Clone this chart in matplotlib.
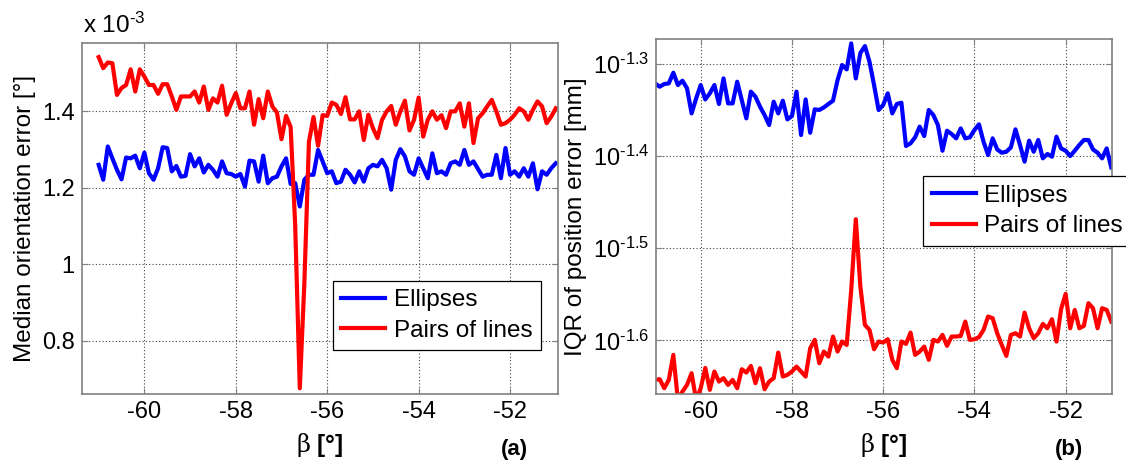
import numpy as np
import matplotlib
matplotlib.use("Agg")
import matplotlib.pyplot as plt
from matplotlib.ticker import NullLocator

plt.rcParams['font.family'] = ['Liberation Sans', 'DejaVu Sans']
plt.rcParams['mathtext.fontset'] = 'custom'
plt.rcParams['mathtext.rm'] = 'Liberation Sans'
plt.rcParams['mathtext.it'] = 'Liberation Sans:italic'
plt.rcParams['mathtext.bf'] = 'Liberation Sans:bold'
plt.rcParams['axes.unicode_minus'] = False

# beta from -61 to -51 deg, step 0.1
beta = np.round(np.arange(-61.0, -50.95, 0.1), 1)

# (a) median orientation error, x 10^-3 deg
med_ellipses = [
    1.260, 1.221, 1.308, 1.277, 1.247, 1.222, 1.279, 1.277, 1.284, 1.251,
    1.292, 1.238, 1.221, 1.251, 1.306, 1.304, 1.243, 1.257, 1.229, 1.231,
    1.288, 1.256, 1.277, 1.240, 1.260, 1.247, 1.229, 1.269, 1.238, 1.236,
    1.229, 1.236, 1.203, 1.271, 1.269, 1.216, 1.284, 1.212, 1.225, 1.229,
    1.256, 1.277, 1.210, 1.212, 1.151, 1.221, 1.234, 1.234, 1.299, 1.269,
    1.238,
    1.243, 1.212, 1.216, 1.247, 1.234, 1.214, 1.243, 1.216, 1.251, 1.260,
    1.256, 1.273, 1.251, 1.195, 1.273, 1.301, 1.282, 1.243, 1.234, 1.277,
    1.251, 1.225, 1.290, 1.238, 1.243, 1.234, 1.264, 1.269, 1.260, 1.299,
    1.260, 1.269, 1.249, 1.229, 1.234, 1.234, 1.286, 1.225, 1.304, 1.234,
    1.243, 1.229, 1.251, 1.229, 1.264, 1.196, 1.243, 1.234, 1.251, 1.264,
]
med_lines = [
    1.542, 1.513, 1.528, 1.526, 1.443, 1.461, 1.469, 1.510, 1.452, 1.510,
    1.491, 1.469, 1.469, 1.446, 1.471, 1.471, 1.439, 1.404, 1.439, 1.439,
    1.439, 1.452, 1.423, 1.465, 1.404, 1.434, 1.423, 1.467, 1.391, 1.421,
    1.448, 1.408, 1.408, 1.452, 1.365, 1.432, 1.382, 1.452, 1.413, 1.397,
    1.327, 1.388, 1.359, 1.100, 0.675, 0.950, 1.320, 1.385, 1.310, 1.390,
    1.388, 1.423, 1.417, 1.393, 1.437, 1.379, 1.379, 1.400, 1.325, 1.391,
    1.356, 1.330, 1.378, 1.400, 1.414, 1.365, 1.400, 1.428, 1.350, 1.378,
    1.436, 1.334, 1.378, 1.400, 1.378, 1.390, 1.356, 1.400, 1.400, 1.421,
    1.360, 1.421, 1.317, 1.382, 1.395, 1.413, 1.430, 1.400, 1.365, 1.369,
    1.378, 1.391, 1.408, 1.400, 1.378, 1.404, 1.426, 1.413, 1.369, 1.386,
    1.408,
]

# (b) IQR of position error, as log10 of the value in mm
iqr_ellipses_exp = [
    -1.3210, -1.3246, -1.3217, -1.3210, -1.3094, -1.3228, -1.3181, -1.3264, -1.3536, -1.3373,
    -1.3228, -1.3384, -1.3318, -1.3228, -1.3434, -1.3156, -1.3427, -1.3427, -1.3192, -1.3391,
    -1.3590, -1.3300, -1.3355, -1.3463, -1.3554, -1.3662, -1.3409, -1.3536, -1.3398, -1.3601,
    -1.3565, -1.3300, -1.3771, -1.3384, -1.3746, -1.3492, -1.3499, -1.3471, -1.3434, -1.3398,
    -1.3174, -1.3011, -1.3058, -1.2776, -1.3156, -1.2880,
    -1.2805, -1.2975, -1.3228, -1.3499, -1.3445, -1.3318, -1.3536, -1.3434, -1.3420, -1.3890,
    -1.3861, -1.3796, -1.3680, -1.3782, -1.3499, -1.3554, -1.3662, -1.3941, -1.3724, -1.3760,
    -1.3807, -1.3699, -1.3807, -1.3796, -1.3717, -1.3655, -1.3843, -1.3988, -1.3807, -1.3927,
    -1.3963, -1.3952, -1.3905, -1.3709, -1.3879, -1.4060, -1.3832, -1.3952, -1.3825, -1.4024,
    -1.3977, -1.4006, -1.3789, -1.3916, -1.3941, -1.3999, -1.3941, -1.3879, -1.3825, -1.3825,
    -1.3927, -1.3963, -1.4024, -1.3916, -1.4122,
]
iqr_lines_exp = [
    -1.6430, -1.6422, -1.6520, -1.6430, -1.6158, -1.6650, -1.6556, -1.6484, -1.6357, -1.6650,
    -1.6520, -1.6300, -1.6538, -1.6339, -1.6448, -1.6411, -1.6484, -1.6430, -1.6520, -1.6314,
    -1.6350, -1.6278, -1.6466, -1.6303, -1.6531, -1.6448, -1.6411, -1.6133, -1.6393, -1.6375,
    -1.6339, -1.6285, -1.6339, -1.6393, -1.6086, -1.5995, -1.6249, -1.6122, -1.6176, -1.5959,
    -1.6122, -1.6013, -1.6050, -1.5452, -1.4685,
    -1.5416, -1.5832, -1.5887, -1.6097, -1.6013, -1.6024, -1.5988, -1.6212, -1.6303, -1.6013,
    -1.6039, -1.5916, -1.6158, -1.6122, -1.6068, -1.6212, -1.5995, -1.6013, -1.5941, -1.6060,
    -1.5959, -1.5959, -1.5952, -1.5796, -1.5995, -1.5988, -1.5966, -1.5887, -1.5742, -1.5760,
    -1.5923, -1.6050, -1.6169, -1.5941, -1.5923, -1.5959, -1.5699, -1.5869, -1.5977, -1.5923,
    -1.5822, -1.5869, -1.5771, -1.6013, -1.5662, -1.5496, -1.5869, -1.5670, -1.5869, -1.5843,
    -1.5597, -1.5651, -1.5869, -1.5651, -1.5670, -1.5796,
]

xticks = [-60, -58, -56, -54, -52]
left_yticks = [0.8, 1.0, 1.2, 1.4]
left_yticklabels = ['0.8', '1', '1.2', '1.4']
right_ytick_exp = ['-1.6', '-1.5', '-1.4', '-1.3']
labels = ['Ellipses', 'Pairs of lines']

TICK_FS = 17
LABEL_FS = 17.5


def style_axes(ax):
    ax.grid(True, linestyle=(0, (1, 2)), color='#444444', linewidth=0.8)
    ax.set_axisbelow(True)
    ax.tick_params(direction='in', length=4, top=True, right=True,
                   labelsize=TICK_FS, color='#808080', pad=5)
    for s in ax.spines.values():
        s.set_color('#808080')
        s.set_linewidth(1.2)


def add_legend(ax, anchor):
    leg = ax.legend(loc='lower left', bbox_to_anchor=anchor, fontsize=LABEL_FS,
                    fancybox=False, framealpha=1, edgecolor='black',
                    handlelength=1.8, handletextpad=0.35, borderaxespad=0,
                    borderpad=0.35, labelspacing=0.35)
    leg.get_frame().set_linewidth(0.9)
    return leg


def beta_label(ax):
    ax.set_xlabel(r'$\mathrm{\beta}$ [°]', fontsize=LABEL_FS, fontweight='bold',
                  math_fontfamily='dejavuserif', labelpad=6)


fig = plt.figure(figsize=(11.26, 4.63), dpi=100)

# (a)
ax1 = fig.add_axes([0.0726, 0.149, 0.423, 0.759])
ax1.plot(beta, med_ellipses, color='#0000ff', lw=3, label=labels[0])
ax1.plot(beta, med_lines, color='#ff0000', lw=3, label=labels[1])
ax1.set_xlim(-61.37, -50.95)
ax1.set_ylim(0.66, 1.58)
ax1.set_xticks(xticks)
ax1.set_yticks(left_yticks)
ax1.set_yticklabels(left_yticklabels)
style_axes(ax1)
ax1.set_ylabel('Median orientation error [°]', fontsize=LABEL_FS, labelpad=4)
beta_label(ax1)
add_legend(ax1, (0.527, 0.125))
fig.text(83 / 1126, 1 - 33 / 463, r'x 10$^{\text{-3}}$', fontsize=LABEL_FS,
         ha='left', va='baseline')
fig.text(514 / 1126, 1 - 450 / 463, '(a)', fontsize=16, fontweight='bold',
         ha='center', va='center')

# (b)
ax2 = fig.add_axes([0.5826, 0.149, 0.4047, 0.766])
ax2.plot(beta, np.power(10.0, iqr_ellipses_exp), color='#0000ff', lw=3, label=labels[0])
ax2.plot(beta, np.power(10.0, iqr_lines_exp), color='#ff0000', lw=3, label=labels[1])
ax2.set_yscale('log')
ax2.set_xlim(-60.98, -50.99)
ax2.set_ylim(10 ** -1.6583, 10 ** -1.2732)
ax2.set_xticks(xticks)
ax2.set_yticks([10 ** float(e) for e in right_ytick_exp])
ax2.set_yticklabels([r'10$^{\text{%s}}$' % e for e in right_ytick_exp])
ax2.yaxis.set_minor_locator(NullLocator())
style_axes(ax2)
ax2.set_ylabel('IQR of position error [mm]', fontsize=LABEL_FS, labelpad=4)
beta_label(ax2)
add_legend(ax2, (0.587, 0.418))
fig.text(1069 / 1126, 1 - 450 / 463, '(b)', fontsize=16, fontweight='bold',
         ha='center', va='center')

fig.savefig('out.png', dpi=100)
